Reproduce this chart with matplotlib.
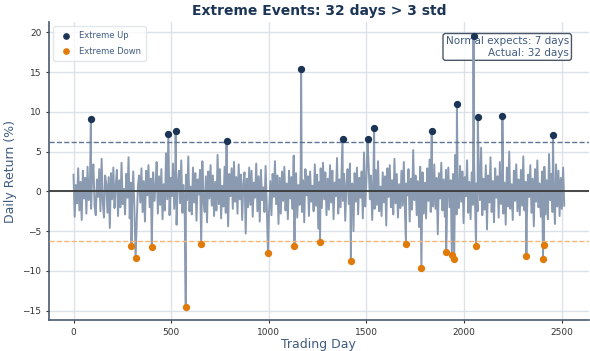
import matplotlib.pyplot as plt
import numpy as np

n_days = 2520
step = 6

# daily returns (%), one reading every `step` trading days
base_returns = [
    2.1, -3.2, 0.8, -1.5, 2.9, -2.4, 1.2, -3.6, 2.6, -0.9, 1.7, -2.8, 3.1, -1.1, 0.4, -2.2, 2.4, 3.4, -1.9, -3.0,
    1.5, -0.7, 2.8, -2.5, 4.1, -1.3, -3.3, 2.0, 0.9, -2.7, 1.8, -4.6, 2.3, -1.0, 3.0, -2.1, 0.6, 2.7, -3.1, 1.4,
    -2.0, 3.6, -1.6, 0.3, -2.9, 2.2, -0.8, 4.3, -3.4, 1.1, -1.8, 2.5, -2.3, 3.2, -4.0, 0.7, 2.0, -1.4, 2.9, -2.6,
    1.3, -3.8, 2.6, -0.5, 3.3, -2.0, 1.6, -5.1, 2.4, -1.2, 0.5, 3.7, -2.8, 1.9, -1.7, 2.8, -3.5, 0.9, -2.4, 4.8,
    -1.0, 2.2, -3.0, 1.7, -0.6, 3.5, -2.2, 2.9, -4.2, 1.0, 2.6, -1.5, 3.9, -2.7, 0.8, -3.3, 2.1, -1.1, 4.4, -2.5,
    0.6, -2.9, 3.0, -1.4, 2.3, -3.7, 1.5, -0.4, 2.7, -2.1, 3.8, -1.2, -2.6, 1.9, -3.9, 2.5, -0.9, 3.3, -1.8, 2.0,
    -3.1, 1.2, -2.4, 4.6, -1.6, 2.8, -3.4, 0.7, -1.9, 3.1, -2.7, 1.4, -4.4, 2.2, -0.6, 2.9, -2.2, 3.7, -1.3, 1.8,
    -2.8, 3.4, -1.0, 2.1, -3.6, 0.9, 2.4, -5.3, 1.6, -2.0, 3.0, -1.7, 2.6, -3.2, 1.1, -0.8, 3.5, -2.5, 1.9, -3.8,
    2.7, -1.1, 0.5, -2.6, 3.2, -1.9, 4.0, -2.3, 1.3, -3.0, 2.2, -0.7, 3.8, -1.6, 2.0, -4.1, 1.7, -2.8, 2.5, -1.2,
    3.1, -2.4, 1.0, -3.5, 2.6, -0.9, 1.8, -2.2, 4.5, -1.5, 2.3, -3.3, 0.8, -1.7, 3.0, -2.6, 1.4, -3.9, 2.8, -0.5,
    1.9, -3.1, 2.5, -1.3, 0.7, -2.5, 3.4, -1.8, 2.1, -4.7, 1.2, 2.9, -2.1, 3.6, -1.0, 2.4, -3.0, 1.6, -2.3, 3.3,
    -1.4, 2.6, -3.5, 1.1, -0.6, 4.2, -2.8, 1.5, -2.0, 3.1, -1.2, 2.2, -3.7, 0.9, 2.8, -1.6, 3.5, -2.4, 1.0, -5.0,
    2.3, -1.3, 3.0, -2.9, 1.7, -0.8, 2.5, -3.4, 4.9, -1.9, 1.2, -2.6, 3.2, -1.0, 2.0, -3.6, 1.5, -2.2, 2.7, -1.7,
    3.8, -2.5, 0.6, -3.1, 2.4, -1.4, 1.9, -4.3, 2.9, -0.7, 3.3, -2.0, 1.4, -2.9, 4.1, -1.5, 2.2, -3.3, 0.9, -2.1,
    2.6, -1.8, 3.7, -2.7, 1.0, -0.5, 2.8, -3.8, 1.6, -2.3, 5.2, -1.1, 2.0, -3.0, 1.3, -4.5, 3.1, -1.6, 2.4, -2.8,
    1.1, -3.4, 2.9, -1.2, 4.0, -2.6, 0.8, -1.9, 3.4, -2.2, 1.7, -5.4, 2.3, -0.9, 3.6, -2.4, 1.5, -3.2, 2.7, -1.0,
    3.0, -2.0, 1.4, -3.7, 2.2, -1.5, 4.6, -2.9, 0.7, -2.1, 3.2, -1.3, 2.5, -4.0, 1.8, -0.6, 3.9, -2.7, 1.2, -3.5,
    2.4, -1.7, 3.5, -3.1, 1.0, -2.5, 2.8, -1.1, 5.5, -3.0, 1.6, -2.3, 3.3, -4.8, 2.0, -1.4, 4.3, -2.6, 1.3, -3.9,
    2.9, -0.8, 1.9, -3.3, 3.7, -1.6, 2.4, -2.8, 1.1, -4.2, 3.0, -1.9, 5.0, -2.2, 0.9, -3.6, 2.6, -1.2, 3.4, -2.5,
    1.5, -3.0, 2.7, -1.8, 4.4, -2.4, 1.2, -3.9, 2.1, -0.7, 3.3, -2.7, 1.6, -4.4, 2.8, -1.3, 3.9, -2.0, 1.0, -3.2,
    2.5, -1.6, 3.1, -2.9, 1.4, -3.5, 4.7, -1.1, 2.2, -2.6, 0.8, -4.1, 3.4, -1.9, 2.6, -3.1, 1.7, -2.2, 3.0, -1.8,
]

up_days = [89, 486, 523, 784, 1166, 1378, 1506, 1540, 1835, 1964, 2049, 2071, 2197, 2456]
up_vals = [9.1, 7.2, 7.6, 6.3, 15.4, 6.6, 6.6, 8.0, 7.6, 11.0, 19.6, 9.3, 9.5, 7.1]

down_days = [297, 318, 401, 575, 654, 996, 1132, 1263, 1421, 1703, 1782,
             1909, 1938, 1950, 2062, 2320, 2405, 2410]
down_vals = [-6.9, -8.4, -7.0, -14.5, -6.6, -7.7, -6.9, -6.4, -8.8, -6.6, -9.6,
             -7.6, -8.0, -8.5, -6.9, -8.1, -8.5, -6.7]

mu = -0.01
sigma = 2.09

# merge the extreme days into the sampled series
series = dict(zip(range(0, n_days, step), base_returns))
series.update(zip(up_days, up_vals))
series.update(zip(down_days, down_vals))
days = sorted(series)
rets = [series[d] for d in days]

upper = mu + 3 * sigma
lower = mu - 3 * sigma
n_extreme = len(up_days) + len(down_days)
expected = round(n_days * 0.0027)

navy = '#1c3557'
orange = '#e07b0a'
slate = '#3f5c80'

fig, ax = plt.subplots(figsize=(5.9, 3.51), dpi=100)
fig.subplots_adjust(left=0.083, right=0.998, top=0.937, bottom=0.088)

ax.plot(days, rets, color='#8a9ab0', lw=1.4, zorder=2)
ax.axhline(0, color='#3a3a3a', lw=1.3, zorder=3)
ax.axhline(upper, color='#5f7596', ls='--', lw=1.0, zorder=3)
ax.axhline(lower, color='#f3b77a', ls='--', lw=1.0, zorder=3)

ax.scatter(up_days, up_vals, s=18, color=navy, zorder=4, label='Extreme Up')
ax.scatter(down_days, down_vals, s=18, color=orange, zorder=4, label='Extreme Down')

ax.set_title(f'Extreme Events: {n_extreme} days > 3 std', fontsize=10,
             fontweight='bold', color=navy, pad=5)
ax.set_xlabel('Trading Day', fontsize=9, color=slate, labelpad=1)
ax.set_ylabel('Daily Return (%)', fontsize=9, color=slate, labelpad=4)

ax.grid(True, color='#dde1e8', lw=1.0, zorder=0)
ax.set_axisbelow(True)
for side in ['top', 'right']:
    ax.spines[side].set_visible(False)
for side in ['left', 'bottom']:
    ax.spines[side].set_color('#4a5a70')
    ax.spines[side].set_linewidth(1.2)
ax.tick_params(labelsize=6.5, colors='#333333', length=2.5, pad=3)

leg = ax.legend(loc='upper left', fontsize=6, frameon=True, handletextpad=0.5,
                borderpad=0.6, labelspacing=0.75, markerscale=0.9)
leg.get_frame().set_edgecolor('#dde1e8')
for t in leg.get_texts():
    t.set_color(slate)

# summary box sits under the series so the tallest stem shows through it
ax.text(0.963, 0.953, f'Normal expects: {expected} days\nActual: {n_extreme} days',
        transform=ax.transAxes, ha='right', va='top', fontsize=7.5, color=slate,
        bbox=dict(boxstyle='round,pad=0.25', fc='white', ec='#2b3a4f', alpha=0.85),
        zorder=1.5)

plt.savefig('out.png', dpi=100)
